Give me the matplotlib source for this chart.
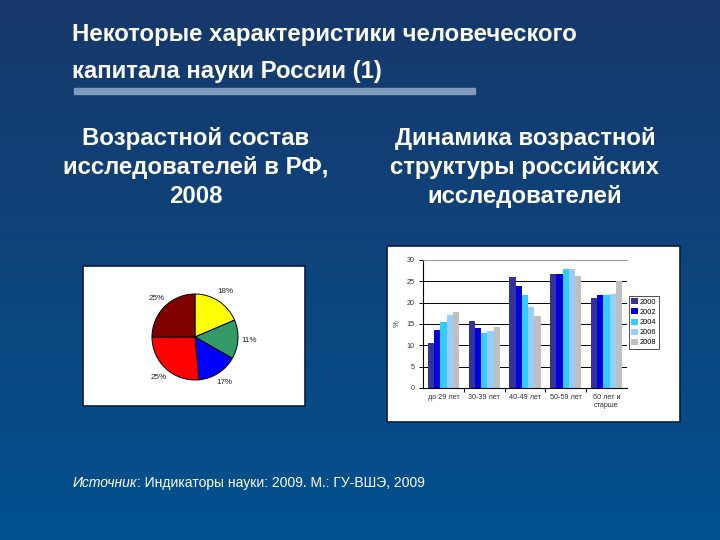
import numpy as np
import matplotlib
matplotlib.use("Agg")
import matplotlib.pyplot as plt
from matplotlib.patches import Rectangle

plt.rcParams['font.family'] = ['Liberation Sans', 'DejaVu Sans']

# --- данные ---
pie_labels = ['18%', '11%', '17%', '25%', '25%']
pie_shares = [18.6, 14.7, 15.3, 26.5, 25.0]   # доли, как видны на круге
pie_colors = ['#ffff00', '#339966', '#0000ff', '#ff0000', '#800000']

age_groups = ['до 29 лет', '30-39 лет', '40-49 лет', '50-59 лет', '60 лет и\nстарше']
years = ['2000', '2002', '2004', '2006', '2008']
values = {
    '2000': [10.5, 15.6, 26.0, 26.8, 21.0],
    '2002': [13.5, 14.0, 24.0, 26.8, 21.7],
    '2004': [15.5, 13.0, 21.8, 27.8, 21.8],
    '2006': [17.0, 13.3, 18.9, 27.8, 22.1],
    '2008': [17.7, 14.2, 16.8, 26.3, 25.0],
}
bar_colors = ['#333399', '#0000dd', '#33ccff', '#99ccff', '#c0c0c0']
y_ticks = [0, 5, 10, 15, 20, 25, 30]

title_lines = ['Некоторые характеристики человеческого', 'капитала науки России (1)']
left_sub = ['Возрастной состав', 'исследователей в РФ,', '2008']
right_sub = ['Динамика возрастной', 'структуры российских', 'исследователей']

W, H = 720, 540
fig = plt.figure(figsize=(7.2, 5.4), dpi=100)


def fx(px):
    return px / W


def fy(py):
    return 1 - py / H


# фон-градиент
bg = fig.add_axes([0, 0, 1, 1], zorder=-5)
grad = np.linspace(0, 1, 256).reshape(-1, 1)
top = np.array([0x17, 0x38, 0x6a]) / 255
bot = np.array([0x02, 0x51, 0x8f]) / 255
img = top + grad[..., None] * (bot - top)
bg.imshow(img, aspect='auto', extent=[0, 1, 0, 1])
bg.axis('off')

# заголовок
for i, line in enumerate(title_lines):
    fig.text(fx(72), fy(41 + 37 * i), line, color='white', fontsize=17.3,
             fontweight='bold', va='baseline', ha='left')
fig.add_artist(Rectangle((fx(74), fy(94)), fx(475 - 74), 6 / H,
                         transform=fig.transFigure, color='#7f9bbb', zorder=1))

for i, line in enumerate(left_sub):
    fig.text(fx(196), fy(145 + 29 * i), line, color='white', fontsize=17.3,
             fontweight='bold', va='baseline', ha='center')
for i, line in enumerate(right_sub):
    fig.text(fx(525), fy(145 + 29 * i), line, color='white', fontsize=17.3,
             fontweight='bold', va='baseline', ha='center')

# белые подложки
for x0, y0, x1, y1 in [(83, 266, 305, 406), (387, 246, 680, 422)]:
    fig.add_artist(Rectangle((fx(x0), fy(y1)), fx(x1 - x0), (y1 - y0) / H,
                             transform=fig.transFigure, facecolor='white',
                             edgecolor='#0b1c3c', lw=1.2, zorder=-1))

# круговая диаграмма
r = 43
pax = fig.add_axes([fx(195 - 2 * r), fy(337 + 2 * r), fx(4 * r), 4 * r / H])
wedges, texts = pax.pie(pie_shares, labels=pie_labels, colors=pie_colors,
                        startangle=90, counterclock=False, labeldistance=1.27,
                        wedgeprops=dict(edgecolor='black', linewidth=0.7),
                        textprops=dict(fontsize=5.8, color='#222222'))
for t in texts:
    t.set_ha('center')
    t.set_va('center')
pax.set_xlim(-2, 2)
pax.set_ylim(-2, 2)
pax.set_aspect('equal')
pax.axis('off')

# столбчатая диаграмма
ax = fig.add_axes([fx(423), fy(388), fx(627 - 423), (388 - 260) / H])
x = np.arange(len(age_groups))
bw = 0.76 / len(years)
for k, (yr, col) in enumerate(zip(years, bar_colors)):
    ax.bar(x - 0.38 + bw * (k + 0.5), values[yr], width=bw, color=col,
           label=yr, zorder=2, linewidth=0)
ax.set_xlim(-0.5, len(age_groups) - 0.5)
ax.set_ylim(0, 30)
ax.set_yticks(y_ticks)
ax.set_yticklabels([str(v) for v in y_ticks], fontsize=5.2, color='#333333')
ax.yaxis.grid(True, color='black', lw=0.7, zorder=0)
ax.set_axisbelow(True)
ax.set_xticks(x)
ax.set_xticklabels(age_groups, fontsize=5.2, color='#333333', linespacing=1.3)
ax.tick_params(axis='x', which='major', length=0, pad=4)
ax.set_xticks(np.arange(0.5, len(age_groups) - 0.5, 1), minor=True)
ax.tick_params(axis='x', which='minor', length=3, width=0.7, direction='out')
ax.tick_params(axis='y', length=3, width=0.7, pad=3)
ax.spines['right'].set_visible(False)
ax.spines['top'].set_color('#999999')
ax.spines['left'].set_linewidth(0.8)
ax.spines['bottom'].set_linewidth(0.8)
ax.set_ylabel('%', fontsize=5.5, color='#333333', labelpad=4)

fig.legend(*ax.get_legend_handles_labels(), loc='upper left',
           bbox_to_anchor=(fx(629), fy(296)), fontsize=5.3, frameon=True,
           fancybox=False, edgecolor='black', handlelength=0.9,
           handleheight=0.9, handletextpad=0.3, labelspacing=0.35,
           borderpad=0.3, borderaxespad=0).get_frame().set_linewidth(0.6)

# источник
src_it = fig.text(fx(73), fy(487), 'Источник', fontstyle='italic',
                  color='white', fontsize=10, va='baseline')
fig.canvas.draw()
bb = src_it.get_window_extent()
fig.text(bb.x1 / W, fy(487), ': Индикаторы науки: 2009. М.: ГУ-ВШЭ, 2009',
         color='white', fontsize=10, va='baseline')

fig.savefig('out.png', dpi=100)
